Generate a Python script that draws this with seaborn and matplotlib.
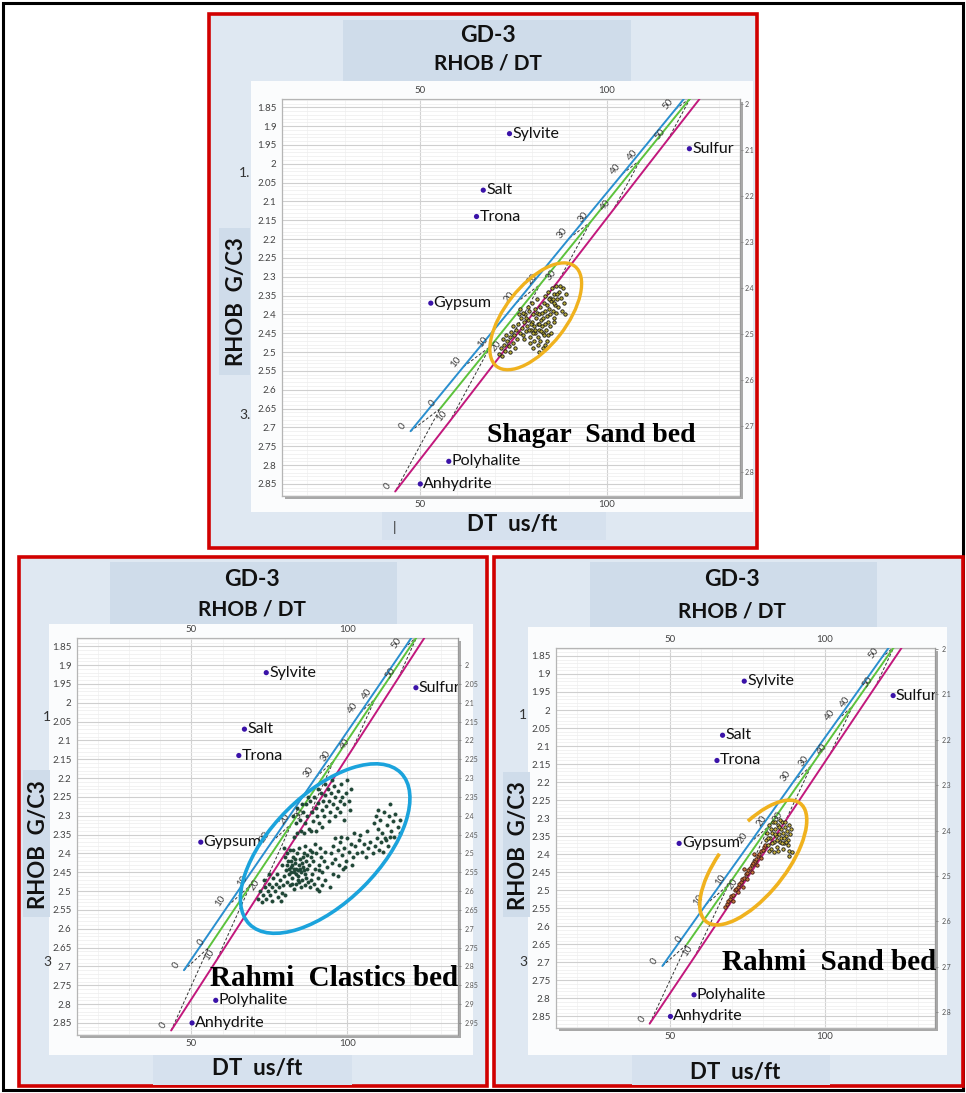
import matplotlib
matplotlib.use("Agg")
import matplotlib.pyplot as plt
import seaborn as sns
import numpy as np
from matplotlib.patches import Rectangle, Ellipse, Arc
from matplotlib.transforms import IdentityTransform
from matplotlib.ticker import FixedLocator

sns.set_style("white")
plt.rcParams['font.family'] = ['Lato', 'DejaVu Sans']

# ---------------- data ----------------
mineral_names = ["Sylvite", "Salt", "Trona", "Sulfur", "Gypsum", "Polyhalite", "Anhydrite"]
mineral_dt = [74.0, 67.0, 65.2, 122.0, 53.0, 57.8, 50.2]
mineral_rhob = [1.92, 2.07, 2.14, 1.96, 2.37, 2.79, 2.85]

porosity = [0, 10, 20, 30, 40, 50]
limestone_dt = [47.6, 61.7, 75.9, 90.0, 104.2, 118.3]
limestone_rhob = [2.71, 2.539, 2.368, 2.197, 2.026, 1.855]
sandstone_dt = [55.5, 68.9, 82.2, 95.6, 108.9, 122.3]
sandstone_rhob = [2.65, 2.485, 2.32, 2.155, 1.99, 1.825]
dolomite_dt = [43.5, 58.1, 72.6, 87.2, 101.7, 116.3]
dolomite_rhob = [2.87, 2.683, 2.496, 2.309, 2.122, 1.935]
line_end_dt = [120.5, 122.0, 124.7]
line_end_rhob = [1.828, 1.828, 1.828]

y_ticks = [1.85, 1.9, 1.95, 2.0, 2.05, 2.1, 2.15, 2.2, 2.25, 2.3, 2.35, 2.4, 2.45,
           2.5, 2.55, 2.6, 2.65, 2.7, 2.75, 2.8, 2.85]
x_ticks = [50, 100]
right_ticks_a = [2.0, 2.1, 2.2, 2.3, 2.4, 2.5, 2.6, 2.7, 2.8]
right_ticks_b = [2.0, 2.05, 2.1, 2.15, 2.2, 2.25, 2.3, 2.35, 2.4, 2.45, 2.5, 2.55,
                 2.6, 2.65, 2.7, 2.75, 2.8, 2.85, 2.9, 2.95]

shagar_dt = [71.2, 71.8, 72.0, 72.5, 72.9, 73.3, 73.0, 73.8, 74.2, 74.5, 74.9, 75.3, 75.0, 75.8, 76.1, 76.4, 76.8, 74.0, 72.3, 75.5,
             77.0, 77.3, 77.6, 77.9, 78.2, 78.4, 78.7, 79.0, 79.2, 79.5, 79.8, 80.0, 80.2, 80.5, 80.7, 80.9, 81.1, 81.3, 81.5, 81.8,
             82.0, 82.2, 82.4, 82.6, 82.8, 83.0, 83.2, 83.4, 83.6, 83.9, 84.1, 84.3, 84.6, 84.9, 85.2, 85.5, 85.8, 86.1, 78.0, 79.4,
             80.6, 81.6, 82.9, 83.7, 84.8, 85.9, 77.5, 78.9, 80.1, 81.4, 76.5, 76.9, 86.5, 79.1, 80.4, 81.9, 83.3, 82.1, 83.5, 78.5,
             79.7, 80.8, 82.3, 84.4, 80.2, 81.5, 82.0, 84.0, 83.0, 85.0,
             83.5, 84.2, 84.8, 85.4, 85.9, 86.4, 86.8, 87.3, 87.7, 88.2, 88.6, 89.0, 87.0, 86.0, 88.0, 88.9, 84.5, 85.7, 87.5, 86.6]
shagar_rhob = [2.505, 2.49, 2.51, 2.48, 2.497, 2.47, 2.455, 2.485, 2.46, 2.447, 2.475, 2.455, 2.43, 2.44, 2.465, 2.425, 2.45, 2.50, 2.465, 2.49,
               2.41, 2.435, 2.455, 2.42, 2.40, 2.445, 2.43, 2.415, 2.39, 2.46, 2.44, 2.42, 2.40, 2.43, 2.385, 2.45, 2.41, 2.395, 2.425, 2.44,
               2.40, 2.38, 2.415, 2.43, 2.395, 2.41, 2.37, 2.425, 2.39, 2.405, 2.375, 2.42, 2.385, 2.40, 2.365, 2.39, 2.41, 2.375, 2.465, 2.475,
               2.47, 2.46, 2.45, 2.44, 2.43, 2.42, 2.395, 2.38, 2.37, 2.36, 2.40, 2.385, 2.395, 2.44, 2.45, 2.425, 2.455, 2.47, 2.48, 2.41,
               2.425, 2.44, 2.445, 2.455, 2.49, 2.48, 2.50, 2.47, 2.49, 2.45,
               2.35, 2.34, 2.355, 2.33, 2.345, 2.325, 2.36, 2.34, 2.355, 2.33, 2.37, 2.345, 2.38, 2.37, 2.39, 2.40, 2.36, 2.36, 2.325, 2.345]

clastics_dt = [82.5, 83.5, 84.0, 84.8, 85.2, 85.9, 86.3, 86.9, 87.2, 87.8, 88.1, 88.6, 89.0, 89.4, 89.8, 90.3, 90.6, 91.0, 91.4, 91.8,
               92.2, 92.6, 93.0, 93.3, 93.7, 94.1, 94.5, 94.9, 95.3, 95.8, 96.2, 96.6, 97.1, 97.5, 98.0, 98.4, 98.9, 99.5, 100.5, 101.2,
               86.0, 88.5, 90.0, 92.0, 94.0, 96.0, 97.8, 99.0, 84.0, 83.0, 85.5, 87.5, 90.5, 92.8, 95.0, 99.8, 100.8,
               79.2, 79.6, 80.0, 80.3, 80.7, 81.0, 81.3, 81.6, 81.9, 82.2, 82.5, 82.8, 83.1, 83.4, 83.7, 84.0, 84.3, 84.6, 84.9, 85.2,
               85.5, 85.8, 86.1, 86.4, 86.7, 87.0, 87.4, 87.8, 88.2, 88.6, 89.0, 89.5, 90.0, 90.5, 91.0, 91.5, 92.0, 92.5, 93.0, 93.5,
               80.5, 81.2, 81.8, 82.4, 83.0, 83.6, 84.2, 84.8, 85.4, 86.0, 82.0, 83.3, 84.5, 85.0, 86.5, 88.0, 89.2, 90.2, 81.5, 83.0,
               82.7, 84.4, 86.3, 87.9, 89.6, 91.2, 80.8, 79.8, 85.9, 87.2, 88.8, 82.1, 84.1, 86.8, 88.4, 90.8,
               71.5, 72.1, 72.6, 73.0, 73.5, 74.0, 74.4, 74.9, 75.3, 75.8, 76.2, 76.7, 77.1, 77.5, 78.0, 78.5, 79.0, 76.0, 77.8, 79.3,
               73.2, 75.0, 78.8, 80.0,
               94.8, 95.5, 96.2, 96.9, 97.6, 98.3, 99.0, 99.7, 100.4, 101.1, 101.8, 102.5, 103.2, 103.9, 104.6, 105.3, 106.0, 106.7, 107.4, 108.1,
               108.8, 109.5, 110.2, 110.9, 111.6, 112.3, 113.0, 113.7, 95.2, 97.2, 99.3, 101.5, 98.0, 100.0, 102.0, 104.2, 106.3, 96.0,
               108.5, 109.2, 109.8, 110.5, 111.2, 111.9, 112.6, 113.3, 114.0, 114.7, 115.4, 116.1, 116.8, 113.6, 112.0, 115.0, 110.0, 117.0,
               94.5, 91.0, 93.0, 95.5, 97.0, 92.0, 98.5]
clastics_rhob = [2.30, 2.32, 2.28, 2.31, 2.34, 2.29, 2.32, 2.27, 2.30, 2.335, 2.26, 2.29, 2.315, 2.25, 2.28, 2.30, 2.265, 2.32, 2.24, 2.285,
                 2.26, 2.30, 2.245, 2.275, 2.23, 2.26, 2.29, 2.24, 2.27, 2.22, 2.25, 2.28, 2.235, 2.26, 2.215, 2.25, 2.27, 2.24, 2.26, 2.23,
                 2.345, 2.34, 2.34, 2.33, 2.315, 2.30, 2.29, 2.31, 2.345, 2.355, 2.27, 2.25, 2.23, 2.215, 2.205, 2.205, 2.285,
                 2.43, 2.46, 2.41, 2.445, 2.475, 2.42, 2.455, 2.39, 2.435, 2.465, 2.41, 2.45, 2.425, 2.48, 2.44, 2.40, 2.46, 2.43, 2.415, 2.45,
                 2.47, 2.435, 2.40, 2.455, 2.42, 2.44, 2.475, 2.43, 2.41, 2.455, 2.42, 2.44, 2.40, 2.465, 2.43, 2.41, 2.45, 2.42, 2.395, 2.435,
                 2.43, 2.44, 2.45, 2.43, 2.44, 2.455, 2.445, 2.44, 2.425, 2.445, 2.42, 2.415, 2.475, 2.49, 2.485, 2.49, 2.48, 2.495, 2.485, 2.495,
                 2.39, 2.385, 2.38, 2.39, 2.375, 2.385, 2.40, 2.385, 2.41, 2.405, 2.395, 2.48, 2.47, 2.465, 2.47, 2.445,
                 2.52, 2.50, 2.53, 2.51, 2.49, 2.52, 2.50, 2.48, 2.51, 2.49, 2.465, 2.50, 2.48, 2.455, 2.49, 2.47, 2.505, 2.525, 2.515, 2.485,
                 2.47, 2.455, 2.525, 2.51,
                 2.40, 2.38, 2.415, 2.39, 2.37, 2.405, 2.385, 2.42, 2.395, 2.375, 2.41, 2.38, 2.40, 2.365, 2.395, 2.375, 2.41, 2.385, 2.37, 2.40,
                 2.38, 2.36, 2.39, 2.37, 2.395, 2.365, 2.38, 2.355, 2.425, 2.43, 2.435, 2.43, 2.355, 2.36, 2.345, 2.35, 2.34, 2.36,
                 2.32, 2.30, 2.335, 2.31, 2.345, 2.29, 2.325, 2.30, 2.34, 2.315, 2.295, 2.33, 2.31, 2.27, 2.36, 2.355, 2.285, 2.345,
                 2.49, 2.50, 2.47, 2.455, 2.46, 2.485, 2.44]

sand_dt = [81.0, 81.4, 81.8, 82.1, 82.4, 82.7, 83.0, 83.3, 83.6, 83.9, 84.2, 84.5, 84.8, 85.1, 85.4, 85.7, 86.0, 86.3, 86.6, 86.9,
           87.2, 87.5, 87.8, 88.1, 88.4, 88.7, 89.0, 82.0, 83.5, 85.0, 86.5, 84.0, 85.6, 87.0, 82.9, 84.7, 86.2, 83.8, 85.3, 86.8,
           88.0, 81.5, 82.6, 87.6, 88.4, 88.5, 89.3]
sand_rhob = [2.36, 2.34, 2.375, 2.32, 2.355, 2.385, 2.34, 2.31, 2.365, 2.33, 2.35, 2.38, 2.32, 2.345, 2.365, 2.33, 2.355, 2.31, 2.34, 2.37,
             2.325, 2.35, 2.335, 2.36, 2.32, 2.345, 2.33, 2.39, 2.395, 2.39, 2.385, 2.31, 2.305, 2.31, 2.37, 2.36, 2.37, 2.345, 2.325, 2.355,
             2.375, 2.355, 2.33, 2.365, 2.39, 2.405, 2.395]
sand_trend_dt = [67.8, 68.3, 68.9, 69.4, 69.8, 70.3, 70.9, 71.4, 71.9, 72.3, 72.9, 73.4, 73.8, 74.4, 74.9, 75.3, 75.9, 76.4, 76.8, 77.4,
                 77.9, 78.3, 78.9, 79.4, 79.9, 80.3, 80.8, 70.5, 72.0, 73.5, 75.0, 76.5, 78.0, 79.5, 74.0, 77.0]
sand_trend_rhob = [2.545, 2.537, 2.53, 2.525, 2.515, 2.512, 2.50, 2.497, 2.49, 2.482, 2.477, 2.468, 2.465, 2.455, 2.452, 2.443, 2.438, 2.43, 2.425, 2.418,
                   2.412, 2.405, 2.40, 2.392, 2.387, 2.38, 2.375, 2.53, 2.505, 2.49, 2.47, 2.45, 2.43, 2.41, 2.44, 2.40]

# ---------------- figure ----------------
W, H = 966, 1093
fig = plt.figure(figsize=(W / 100, H / 100), dpi=100)
fig.patch.set_facecolor('white')


def add_rect(x0, y0, x1, y1, **kw):
    r = Rectangle((x0 / W, 1 - y1 / H), (x1 - x0) / W, (y1 - y0) / H,
                  transform=fig.transFigure, **kw)
    fig.add_artist(r)
    return r


def ftext(x, y, s, **kw):
    return fig.text(x / W, 1 - y / H, s, **kw)


add_rect(3, 3, 963, 1090, fill=False, edgecolor='black', lw=2.2, zorder=-10)

BG = '#dfe8f2'
BAND = '#cfdcea'
TITLE_KW = dict(fontweight='bold', ha='center', va='center', color='#111111')
BED_KW = dict(fontweight='bold', ha='left', va='center', color='black',
              family=['Liberation Serif', 'DejaVu Serif'])

panels = [
    dict(box=(209, 14, 757, 548), title=(343, 20, 631, 81), white=(251, 81, 753, 512),
         axes=(282, 99, 740, 496), yband=(219, 228, 250, 375), xband=(382, 512, 606, 540),
         tcx=488, gy=36, ry=64, ylab=(236, 302), xlab=(512, 525),
         bed="Shagar  Sand bed", bedpos=(487, 435), bedsize=20,
         right_ticks=right_ticks_a, right_lim=(2.852, 1.989), rpad=1,
         pts=[(shagar_dt, shagar_rhob, '#b8ac38', '#151515', 6)], ring='ellipse_top',
         marks=[(245, 173, '1.'), (245, 415, '3.'), (394, 528, '|')]),
    dict(box=(19, 557, 487, 1086), title=(110, 562, 397, 625), white=(49, 624, 473, 1055),
         axes=(77, 638, 458, 1035), yband=(23, 770, 50, 917), xband=(153, 1055, 352, 1085),
         tcx=252, gy=580, ry=610, ylab=(38, 845), xlab=(257, 1068),
         bed="Rahmi  Clastics bed", bedpos=(210, 978), bedsize=21,
         right_ticks=right_ticks_b, right_lim=(2.982, 1.928), rpad=3,
         pts=[(clastics_dt, clastics_rhob, '#1f4636', '#1f4636', 5)], ring='ellipse_bl',
         marks=[(47, 717, '1'), (47, 962, '3')]),
    dict(box=(494, 557, 963, 1086), title=(590, 562, 877, 627), white=(528, 627, 947, 1055),
         axes=(556, 648, 935, 1028), yband=(503, 772, 530, 917), xband=(632, 1055, 830, 1085),
         tcx=732, gy=580, ry=611, ylab=(518, 846), xlab=(735, 1072),
         bed="Rahmi  Sand bed", bedpos=(722, 962), bedsize=21,
         right_ticks=right_ticks_a, right_lim=(2.835, 1.998), rpad=3,
         pts=[(sand_trend_dt, sand_trend_rhob, '#c8703c', '#3a1a10', 6),
              (sand_dt, sand_rhob, '#cdb640', '#151515', 6)],
         ring='arc_br', marks=[(523, 715, '1'), (523, 962, '3')]),
]

for P in panels:
    x0, y0, x1, y1 = P['box']
    add_rect(x0, y0, x1, y1, facecolor=BG, edgecolor='#d10000', lw=2.6, zorder=-9)
    add_rect(*P['title'], facecolor=BAND, edgecolor='none', zorder=-8)
    add_rect(*P['white'], facecolor='#fbfcfd', edgecolor='none', zorder=-7)
    add_rect(*P['yband'], facecolor=BAND, edgecolor='none', zorder=-6)
    add_rect(*P['xband'], facecolor='#d6e1ee', edgecolor='none', zorder=-6)
    ax0, ay0, ax1, ay1 = P['axes']
    add_rect(ax0 + 3, ay0 + 3, ax1 + 3, ay1 + 3, facecolor='#a8a8a8', edgecolor='none', zorder=-2)

    ftext(P['tcx'], P['gy'], "GD-3", fontsize=16.5, **TITLE_KW)
    ftext(P['tcx'], P['ry'], "RHOB / DT", fontsize=15, **TITLE_KW)
    ftext(P['ylab'][0], P['ylab'][1], "RHOB  G/C3", rotation=90, fontsize=16,
          fontweight='bold', ha='center', va='center', color='#111111')
    ftext(P['xlab'][0], P['xlab'][1], "DT  us/ft", fontsize=16, fontweight='bold',
          ha='center', va='center', color='#111111')
    for mx, my, ms in P['marks']:
        ftext(mx, my, ms, fontsize=10, ha='center', va='center', color='#333333')

    ax = fig.add_axes([ax0 / W, 1 - ay1 / H, (ax1 - ax0) / W, (ay1 - ay0) / H])
    ax.set_facecolor('white')
    ax.set_xlim(13.3, 135.5)
    ax.set_ylim(2.882, 1.828)
    ax.set_axisbelow(True)
    ax.yaxis.set_major_locator(FixedLocator(y_ticks))
    ax.set_yticklabels([f"{v:g}" for v in y_ticks])
    ax.yaxis.set_minor_locator(FixedLocator([round(1.83 + 0.01 * i, 2) for i in range(106)]))
    ax.xaxis.set_major_locator(FixedLocator(x_ticks))
    ax.set_xticklabels([str(v) for v in x_ticks])
    ax.xaxis.set_minor_locator(FixedLocator([20, 30, 40, 60, 70, 80, 90, 110, 120, 130]))
    ax.grid(which='major', axis='y', color='#cfcfcf', lw=0.8)
    ax.grid(which='minor', axis='y', color='#ededed', lw=0.5)
    ax.grid(which='major', axis='x', color='#d2d2d2', lw=0.8)
    ax.grid(which='minor', axis='x', color='#f0f0f0', lw=0.5)
    ax.tick_params(which='both', length=0, labelsize=7, labelcolor='#444444', pad=4)
    ax.tick_params(axis='x', top=True, labeltop=True, bottom=True, labelbottom=True, pad=3)
    for sp in ax.spines.values():
        sp.set_color('#b5b5b5')
        sp.set_linewidth(0.9)
    ax.set_xlabel("")
    ax.set_ylabel("")

    # lithology lines
    lines = [(limestone_dt, limestone_rhob, '#2a8fcf', 0),
             (sandstone_dt, sandstone_rhob, '#5cc23c', 1),
             (dolomite_dt, dolomite_rhob, '#c2187c', 2)]
    for i in range(len(porosity)):
        ax.plot([limestone_dt[i], sandstone_dt[i], dolomite_dt[i]],
                [limestone_rhob[i], sandstone_rhob[i], dolomite_rhob[i]],
                color='#333333', lw=0.7, ls=(0, (3, 2)), zorder=2)
    for dts, rhs, col, k in lines:
        ax.plot(list(dts) + [line_end_dt[k]], list(rhs) + [line_end_rhob[k]],
                color=col, lw=1.4, zorder=3)

    # rotation of porosity labels
    fig.canvas.draw()
    p0 = ax.transData.transform((limestone_dt[0], limestone_rhob[0]))
    p1 = ax.transData.transform((limestone_dt[-1], limestone_rhob[-1]))
    ang = np.degrees(np.arctan2(p1[1] - p0[1], p1[0] - p0[0]))
    for dts, rhs, col, k in lines:
        for p, d, r in zip(porosity, dts, rhs):
            if r < 1.83:
                continue
            ax.annotate(str(p), (d, r), xytext=(-5.5, 3.5), textcoords='offset points',
                        rotation=ang, rotation_mode='anchor', fontsize=7,
                        color='#3c3c3c', ha='center', va='center', zorder=4)

    # clusters
    for dts, rhs, fc, ec, sz in P['pts']:
        sns.scatterplot(x=dts, y=rhs, ax=ax, s=sz, color=fc, edgecolor=ec,
                        linewidth=0.6, legend=False, zorder=5)

    # minerals
    sns.scatterplot(x=mineral_dt, y=mineral_rhob, ax=ax, s=14, color='#3a12a8',
                    edgecolor='none', legend=False, zorder=6)
    for n, d, r in zip(mineral_names, mineral_dt, mineral_rhob):
        ax.annotate(n, (d, r), xytext=(2, 0), textcoords='offset points',
                    fontsize=11.5, color='#111111', va='center', ha='left', zorder=6)

    # right axis
    ax2 = ax.twinx()
    ax2.set_ylim(*P['right_lim'])
    ax2.yaxis.set_major_locator(FixedLocator(P['right_ticks']))
    ax2.set_yticklabels([f"{v:g}" for v in P['right_ticks']])
    ax2.tick_params(axis='y', length=2, width=0.6, color='#888888', labelsize=5,
                    labelcolor='#555555', pad=P['rpad'])
    for s in ['top', 'left', 'bottom']:
        ax2.spines[s].set_visible(False)
    ax2.spines['right'].set_color('#999999')
    ax2.spines['right'].set_linewidth(0.8)

    ftext(P['bedpos'][0], P['bedpos'][1], P['bed'], fontsize=P['bedsize'], **BED_KW)

    # ring annotations
    fig.canvas.draw()
    if P['ring'] == 'ellipse_top':
        c = ax.transData.transform((81.0, 2.405))
        fig.add_artist(Ellipse(c, 127, 61, angle=52, transform=IdentityTransform(),
                               fill=False, edgecolor='#f0b21e', lw=2.4, zorder=8))
    elif P['ring'] == 'ellipse_bl':
        c = ax.transData.transform((92.9, 2.387))
        fig.add_artist(Ellipse(c, 214, 108, angle=45, transform=IdentityTransform(),
                               fill=False, edgecolor='#1ba3dc', lw=2.6, zorder=8))
    else:
        c = ax.transData.transform((76.9, 2.423))
        fig.add_artist(Arc(c, 151, 65, angle=51.4, theta1=114, theta2=406,
                           transform=IdentityTransform(), edgecolor='#f0b21e', lw=2.6, zorder=8))

fig.savefig('out.png', dpi=100)
